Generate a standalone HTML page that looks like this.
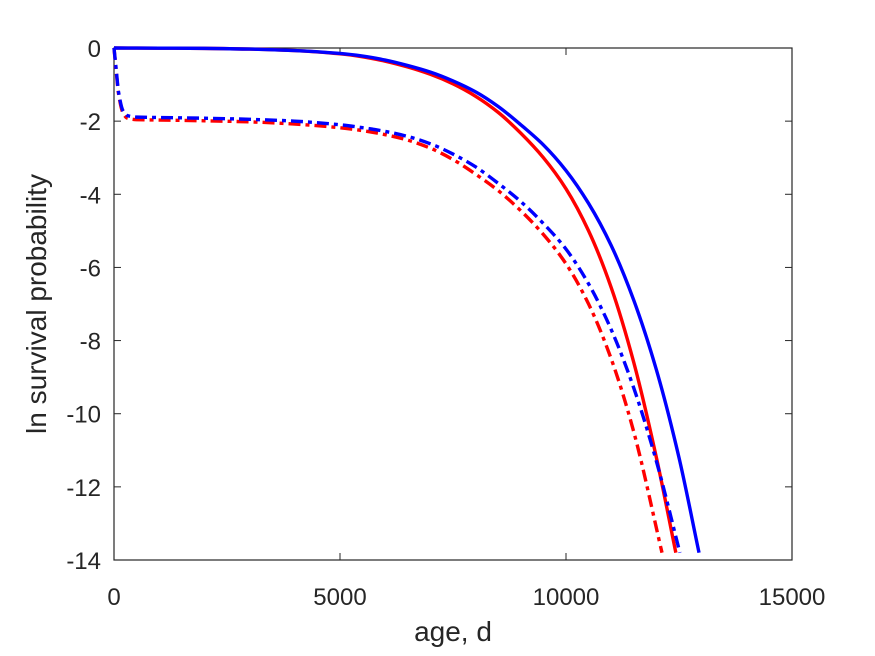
<!DOCTYPE html>
<html><head><meta charset="utf-8"><style>
body{margin:0;background:#fff;}
svg{display:block;font-family:"Liberation Sans",sans-serif;}
</style></head><body>
<svg id="chart" width="875" height="656" viewBox="0 0 875 656">
<rect x="0" y="0" width="875" height="656" fill="#fff"/>
<g id="axes"></g>
<g id="series"></g>
<text x="453" y="641" font-size="28" text-anchor="middle" fill="#262626">age, d</text>
<text transform="translate(46,304) rotate(-90)" font-size="28" text-anchor="middle" fill="#262626">ln survival probability</text>
</svg>
<script>
const xTicks=[0,5000,10000,15000];
const yTicks=[0,-2,-4,-6,-8,-10,-12,-14];
const blueSolidT=[0,1000,2000,3000,4000,5000,5500,6000,6500,7000,7500,8000,8500,9000,9500,10000,10500,11000,11500,12000,12500,12943];
const blueSolidV=[0,-0.005,-0.01,-0.03,-0.07,-0.15,-0.22,-0.33,-0.48,-0.66,-0.9,-1.2,-1.6,-2.1,-2.65,-3.35,-4.25,-5.4,-6.9,-8.8,-11.2,-13.8];
const redSolidT=[0,1000,2000,3000,4000,5000,5500,6000,6500,7000,7500,8000,8500,9000,9500,10000,10500,11000,11500,12000,12430];
const redSolidV=[0,-0.005,-0.01,-0.03,-0.07,-0.16,-0.24,-0.36,-0.52,-0.72,-0.98,-1.32,-1.76,-2.33,-3.0,-3.85,-5.0,-6.55,-8.6,-11.2,-13.8];
const blueDashT=[0,50,100,200,300,500,1000,2000,3000,4000,5000,5500,6000,6500,7000,7500,8000,8500,9000,9500,10000,10500,11000,11500,12000,12520];
const blueDashV=[0,-0.6,-1.2,-1.72,-1.85,-1.89,-1.9,-1.92,-1.95,-2.0,-2.1,-2.18,-2.28,-2.42,-2.62,-2.9,-3.25,-3.7,-4.2,-4.8,-5.5,-6.45,-7.7,-9.3,-11.3,-13.8];
const redDashT=[0,50,100,200,300,500,1000,2000,3000,4000,5000,5500,6000,6500,7000,7500,8000,8500,9000,9500,10000,10500,11000,11500,12124];
const redDashV=[0,-0.65,-1.25,-1.78,-1.92,-1.96,-1.97,-1.99,-2.02,-2.08,-2.18,-2.26,-2.37,-2.52,-2.74,-3.05,-3.45,-3.9,-4.45,-5.1,-5.9,-7.0,-8.5,-10.5,-13.8];

const X0=114,X1=792,Y0=48,Y1=560;
const xs=t=>X0+(t-0)/(15000-0)*(X1-X0);
const ys=v=>Y0+(0-v)/(0-(-14))*(Y1-Y0);
const NS="http://www.w3.org/2000/svg";
const axes=document.getElementById('axes');
const series=document.getElementById('series');
function mk(tag,attrs,parent){const e=document.createElementNS(NS,tag);for(const k in attrs)e.setAttribute(k,attrs[k]);parent.appendChild(e);return e;}

const box=mk('rect',{x:X0,y:Y0,width:X1-X0,height:Y1-Y0,fill:'none',stroke:'#262626','stroke-width':1.2},axes);


xTicks.forEach(t=>{
  const x=xs(t);
  mk('line',{x1:x,y1:Y1,x2:x,y2:Y1-7,stroke:'#262626','stroke-width':1},axes);
  mk('line',{x1:x,y1:Y0,x2:x,y2:Y0+7,stroke:'#262626','stroke-width':1},axes);
  const tx=mk('text',{x:x,y:Y1+45,'font-size':24,'text-anchor':'middle',fill:'#262626'},axes);
  tx.textContent=t;
  
  
});
yTicks.forEach(v=>{
  const y=ys(v);
  mk('line',{x1:X0,y1:y,x2:X0+7,y2:y,stroke:'#262626','stroke-width':1},axes);
  mk('line',{x1:X1,y1:y,x2:X1-7,y2:y,stroke:'#262626','stroke-width':1},axes);
  const tx=mk('text',{x:X0-13,y:y+9,'font-size':24,'text-anchor':'end',fill:'#262626'},axes);
  tx.textContent=v;
  
  
});
function pathD(T,V){
  const p=T.map((t,i)=>[xs(t),ys(V[i])]);
  const n=p.length;
  const m=[];
  for(let i=0;i<n;i++){
    if(i===0)m.push((p[1][1]-p[0][1])/(p[1][0]-p[0][0]));
    else if(i===n-1)m.push((p[n-1][1]-p[n-2][1])/(p[n-1][0]-p[n-2][0]));
    else{
      const d0=(p[i][1]-p[i-1][1])/(p[i][0]-p[i-1][0]);
      const d1=(p[i+1][1]-p[i][1])/(p[i+1][0]-p[i][0]);
      m.push(d0*d1<=0?0:2/(1/d0+1/d1));
    }
  }
  let d='M'+p[0][0]+','+p[0][1];
  for(let i=0;i<n-1;i++){
    const h=(p[i+1][0]-p[i][0])/3;
    d+=' C'+(p[i][0]+h)+','+(p[i][1]+m[i]*h)+' '+(p[i+1][0]-h)+','+(p[i+1][1]-m[i+1]*h)+' '+p[i+1][0]+','+p[i+1][1];
  }
  return d;
}
const defs=[
 [redSolidT,redSolidV,'#ff0000','','red-solid-line'],
 [redDashT,redDashV,'#ff0000','12,5,4,5','red-dashdot-line'],
 [blueDashT,blueDashV,'#0000ff','12,5,4,5','blue-dashdot-line'],
 [blueSolidT,blueSolidV,'#0000ff','','blue-solid-line']
];
defs.forEach(s=>{
  const el=mk('path',{d:pathD(s[0],s[1]),fill:'none',stroke:s[2],'stroke-width':3.4,'stroke-dasharray':s[3]||'none'},series);
  
  
});
</script>
</body></html>
